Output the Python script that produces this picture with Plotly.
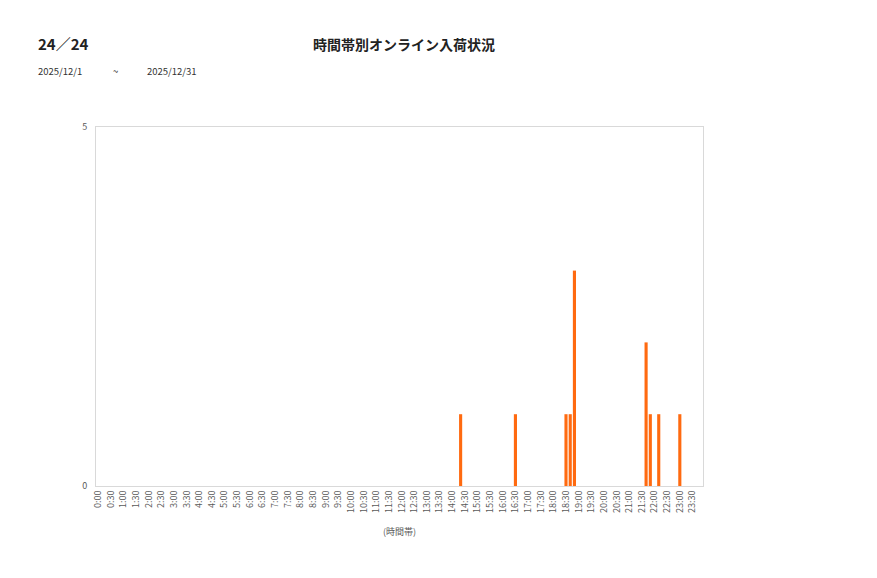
"""時間帯別オンライン入荷状況 (10分刻み) の棒グラフ。"""

import plotly.graph_objects as go

# 10分刻みの時間帯 (0:00 - 23:50)
time_slots = [f"{h}:{m:02d}" for h in range(24) for m in range(0, 60, 10)]
tick_slots = [f"{h}:{m:02d}" for h in range(24) for m in (0, 30)]

# 入荷があった時間帯と件数
bar_slots = ["14:20", "16:30", "18:30", "18:40", "18:50", "21:40", "21:50", "22:10", "23:00"]
bar_counts = [1, 1, 1, 1, 3, 2, 1, 1, 1]

page_label = "24／24"
period_from = "2025/12/1"
period_to = "2025/12/31"

_FONT = "Noto Sans CJK JP, Meiryo, sans-serif"
_ORANGE = "#FF6A10"
_W, _H = 877, 578
_L, _R, _T, _B = 88, 182, 119, 100
_OFF = 8  # body margin of the page

fig = go.Figure(data=[go.Bar(
    x=bar_slots, y=bar_counts, width=0.74,
    marker=dict(color=_ORANGE, line=dict(width=0)),
)])

fig.update_layout(
    width=_W, height=_H,
    margin=dict(l=_L, r=_R, t=_T, b=_B),
    paper_bgcolor="white", plot_bgcolor="white",
    font=dict(family=_FONT, size=9, color="#595959"),
    showlegend=False,
    xaxis=dict(
        type="category", categoryorder="array", categoryarray=time_slots,
        range=[-0.5, len(time_slots) - 0.5],
        tickvals=tick_slots, ticktext=tick_slots, tickangle=-90,
        tickfont=dict(size=9, color="#595959"),
        showgrid=False, zeroline=False,
        showline=True, linecolor="#d9d9d9", linewidth=1, mirror=True,
        ticks="", title=dict(text="(時間帯)", font=dict(size=9, color="#595959"), standoff=16),
    ),
    yaxis=dict(
        range=[0, 5], tickvals=[0, 5], showgrid=False, zeroline=False,
        showline=True, linecolor="#d9d9d9", linewidth=1, mirror=True,
        ticks="", tickfont=dict(size=9, color="#595959"), ticklabelstandoff=6,
    ),
)

fig.add_annotation(text="<b>時間帯別オンライン入荷状況</b>", x=404, y=44,
                   showarrow=False, font=dict(size=14, color="#222222"))
fig.add_annotation(text="<b>" + page_label + "</b>", x=36, y=44, xanchor="left",
                   showarrow=False, font=dict(size=15, color="#222222"))
for txt, xpos in ((period_from, 36), ("~", 111), (period_to, 145)):
    fig.add_annotation(text=txt, x=xpos, y=71, xanchor="left",
                       showarrow=False, font=dict(size=9.5, color="#333333"))

# annotations above are placed in screen pixels: convert to paper coords
_pw, _ph = _W - _L - _R, _H - _T - _B
for ann in fig.layout.annotations:
    ann.xref, ann.yref, ann.yanchor = "paper", "paper", "middle"
    ann.x = (ann.x - _OFF - _L) / _pw
    ann.y = (_H - _B - (ann.y - _OFF)) / _ph

fig.write_html("out.html")
